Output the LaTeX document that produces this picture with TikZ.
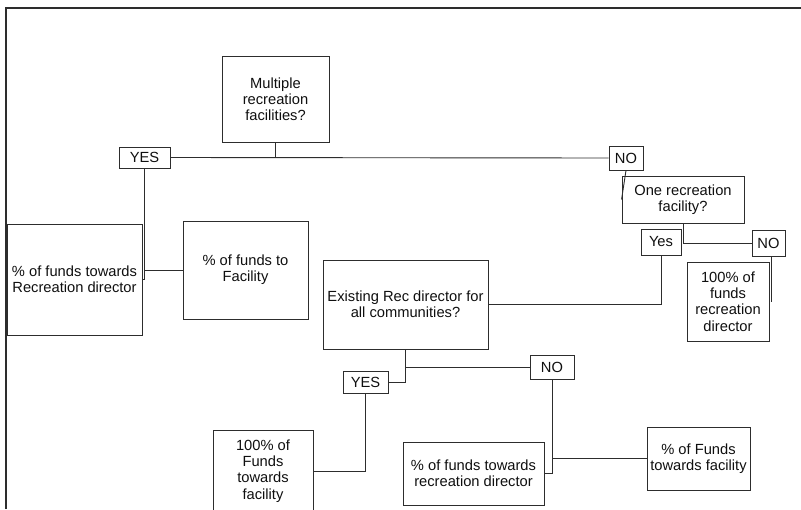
\documentclass[tikz,border=0pt]{standalone}
\usepackage{fontspec}
\setmainfont{Liberation Sans}
\usepackage{tikz}
\usepackage{xcolor}
\usetikzlibrary{positioning}
\definecolor{fcline}{RGB}{45, 45, 45}
\definecolor{fctext}{RGB}{15, 15, 15}
\tikzset{
    fcbox/.style={rectangle, draw=fcline, line width=0.9pt, inner sep=2pt, align=center, text=fctext, font=\fontsize{14.7}{16.2}\selectfont},
    tagbox/.style={fcbox, inner sep=0pt},
    fcedge/.style={draw=fcline, line width=0.9pt}
}

\begin{document}
\begin{tikzpicture}[x=1pt, y=-1pt]
    \useasboundingbox (0,0) rectangle (801,509);
    \clip (0,0) rectangle (801,509);
    \draw[fcline, line width=1.3pt] (6,509) -- (6,8) -- (801,8);

    % questions
    \node[fcbox, minimum width=107, minimum height=86] (multi) at (275.5,99) {Multiple\\recreation\\facilities?};
    \node[fcbox, minimum width=122, minimum height=47] (onerec) at (683,199.5) {One recreation\\facility?};
    \node[fcbox, minimum width=165, minimum height=89] (exist) at (405.5,304.5) {Existing Rec director for\\all communities?};

    % answers
    \node[tagbox, minimum width=51, minimum height=21] (yesA) at (144.5,157.5) {YES};
    \node[tagbox, minimum width=34, minimum height=24] (noA) at (626,158) {NO};
    \node[tagbox, minimum width=40, minimum height=26] (yesB) at (661,242) {Yes};
    \node[tagbox, minimum width=33, minimum height=26] (noB) at (768.5,243) {NO};
    \node[tagbox, minimum width=45, minimum height=22] (yesC) at (365.5,382) {YES};
    \node[tagbox, minimum width=44, minimum height=24] (noC) at (552,367) {NO};

    % outcomes
    \node[fcbox, minimum width=135, minimum height=111] (recdir) at (74.5,279.5) {\% of funds towards\\Recreation director};
    \node[fcbox, minimum width=125, minimum height=98] (facil) at (245.5,270) {\% of funds to\\Facility};
    \node[fcbox, minimum width=82, minimum height=79] (fullrec) at (728,301.5) {100\% of\\funds\\recreation\\director};
    \node[fcbox, minimum width=100, minimum height=82] (fullfac) at (263,471) {100\% of\\Funds\\towards\\facility};
    \node[fcbox, minimum width=141, minimum height=63] (partrec) at (473.5,473.5) {\% of funds towards\\recreation director};
    \node[fcbox, minimum width=103, minimum height=63] (partfac) at (698.5,458.5) {\% of Funds\\towards facility};

    % connectors
    \draw[fcedge] (multi.south) -- (multi.south |- yesA.east);
    \draw[fcedge] (yesA.east) -- (noA.west);
    \draw[fcedge] (yesA.south) |- (recdir.east);
    \draw[fcedge] (yesA.south |- facil.west) -- (facil.west);
    \draw[fcedge] (noA.south) -- (onerec.west);
    \draw[fcedge] (onerec.south) |- (noB.west);
    \draw[fcedge] (yesB.south) |- (exist.east);
    \draw[fcedge] ([xshift=2.5]noB.south) -- ([xshift=2.5]noB.south |- fullrec.east);
    \draw[fcedge] (exist.south) |- (yesC.east);
    \draw[fcedge] (exist.south |- noC.west) -- (noC.west);
    \draw[fcedge] (yesC.south) |- (fullfac.east);
    \draw[fcedge] (noC.south) |- (partrec.east);
    \draw[fcedge] (noC.south |- partfac.west) -- (partfac.west);
\end{tikzpicture}
\end{document}
